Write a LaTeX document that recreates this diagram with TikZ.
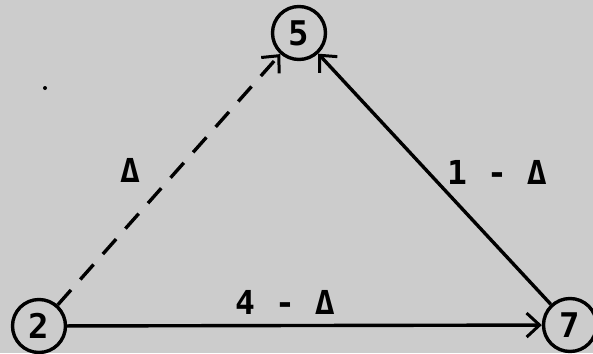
\documentclass[tikz,border=0pt]{standalone}
\usepackage{fontspec}
\setmainfont{DejaVu Sans Mono}
\usetikzlibrary{arrows.meta}
\begin{document}
\begin{tikzpicture}[x=1pt,y=-1pt,
  vert/.style={draw,circle,line width=3.4pt,minimum size=53pt,inner sep=0pt,font=\fontsize{34}{36}\selectfont\bfseries},
  lab/.style={font=\fontsize{33}{36}\selectfont\bfseries},
  edge/.style={line width=3.4pt,-{Straight Barb[length=13pt,width=24pt,line width=3pt]}},
  dedge/.style={edge,dash pattern=on 20pt off 14pt}]
\fill[black!20] (0,0) rectangle (593,353);
\useasboundingbox (0,0) rectangle (593,353);
\node[vert] (n5) at (299,33) {5};
\node[vert] (n2) at (39,326) {2};
\node[vert] (n7) at (570,325) {7};
\draw[dedge] (n2) -- (n5);
\draw[edge] (n7) -- (n5);
\draw[edge] (n2) -- (n7);
\node[lab] (l1) at (130,170) {Δ};
\node[lab] (l2) at (497,172) {1\hspace{20pt}-\hspace{20pt}Δ};
\node[lab] (l3) at (285,302) {4\hspace{20pt}-\hspace{20pt}Δ};
\fill (45,88) circle (2pt);
\end{tikzpicture}
\end{document}
